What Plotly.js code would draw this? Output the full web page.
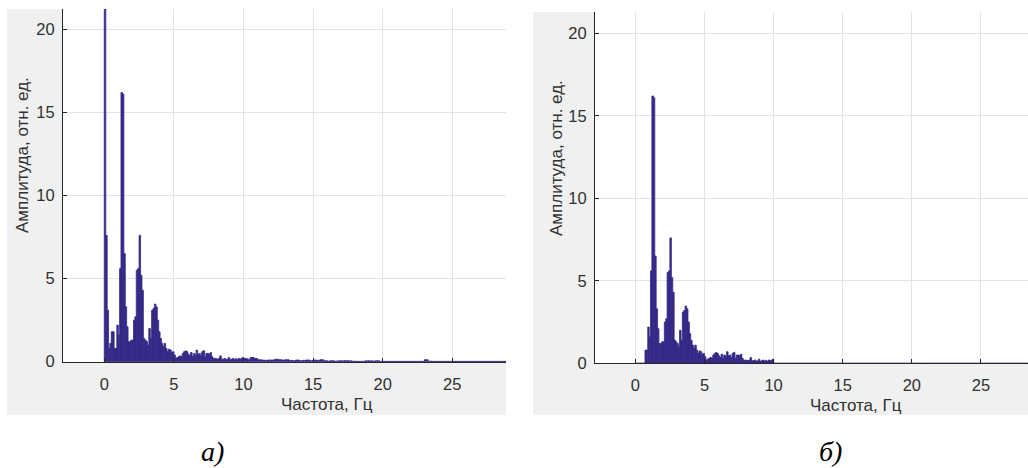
<!DOCTYPE html>
<html>
<head>
<meta charset="utf-8">
<script src="https://cdn.plot.ly/plotly-3.0.1.min.js"></script>
<style>
  html, body { margin: 0; padding: 0; background: #ffffff; }
  #chart { width: 1028px; height: 468px; }
</style>
</head>
<body>
<div id="chart"></div>
<script>
// ---------------- DATA ----------------
// Spectrum amplitude (rel. units), 0.1 Hz bins, 0 ... 10 Hz
const binWidth = 0.1;
const amplitude = [
  24, 7.6, 3.1, 0.8, 1.1, 1.8, 1.8, 0.8, 0.8, 2.2,
  1.6, 5.6, 16.2, 16.1, 6.5, 3.3, 2.1, 1.2, 1.2, 1.3,
  1.3, 2.5, 2.7, 5.5, 5.6, 7.6, 5.2, 4.3, 1.4, 1.3,
  1.2, 1.0, 2.0, 1.4, 3.1, 3.2, 3.47, 3.3, 2.5, 1.8,
  1.4, 1.1, 0.9, 1.1, 0.8, 0.6, 0.75, 0.7, 0.55, 0.6,
  0.4, 0.2, 0.25, 0.3, 0.35, 0.3, 0.5, 0.6, 0.65, 0.6,
  0.45, 0.35, 0.55, 0.3, 0.5, 0.4, 0.7, 0.45, 0.5, 0.35,
  0.6, 0.66, 0.3, 0.5, 0.5, 0.45, 0.55, 0.3, 0.18, 0.2,
  0.18, 0.15, 0.2, 0.35, 0.15, 0.15, 0.2, 0.12, 0.15, 0.25,
  0.12, 0.15, 0.2, 0.12, 0.18, 0.1, 0.2, 0.15, 0.18, 0.25
];
// High-frequency tail, 0.25 Hz bins, 10 ... 29 Hz
const tailStart = 10;
const tailWidth = 0.25;
const amplitudeTail = [
  0.2, 0.15, 0.25, 0.2, 0.12, 0.1, 0.08, 0.1, 0.1, 0.15,
  0.12, 0.1, 0.12, 0.08, 0.06, 0.1, 0.06, 0.08, 0.1, 0.06,
  0.1, 0.08, 0.12, 0.06, 0.04, 0.06, 0.03, 0.05, 0.05, 0.06,
  0.05, 0.03, 0.02, 0.02, 0.02, 0.05, 0.05, 0.04, 0.06, 0.02,
  0.02, 0.02, 0.02, 0.02, 0.02, 0.02, 0.02, 0.02, 0.02, 0.02,
  0.02, 0.02, 0.12, 0.03, 0.02, 0.02, 0.02, 0.02, 0.02, 0.02,
  0.02, 0.02, 0.02, 0.02, 0.02, 0.02, 0.02, 0.02, 0.02, 0.02,
  0.02, 0.02, 0.02, 0.02, 0.02, 0.02
];
// Filter pass band used for panel б)
const bandLow = 0.7, bandHigh = 10;

const xTicks = [0, 5, 10, 15, 20, 25];
const yTicks = [0, 5, 10, 15, 20];
const xTitle = 'Частота, Гц';
const yTitle = 'Амплитуда, отн. ед.';
const panelLabels = ['а)', 'б)'];

// ---------------- FIGURE ----------------
const W = 1028, H = 468;
const barColor = '#352A87';
const axColor = '#262626';

// panel б): components outside the pass band removed
const amplitudeFiltered = amplitude.map((v, i) => {
  const lo = i * binWidth;
  return (lo >= bandLow - 1e-9 && lo + binWidth <= bandHigh + 1e-9) ? v : 0;
});
const amplitudeTailFiltered = amplitudeTail.map(() => 0);

function barTrace(y, x0, dx, xa, ya) {
  return {
    type: 'bar', y: y, x0: x0 + dx / 2, dx: dx, width: dx * 1.1,
    xaxis: xa, yaxis: ya,
    marker: { color: barColor, line: { color: barColor, width: 0.8 } },
    hoverinfo: 'skip', showlegend: false
  };
}

const traces = [
  barTrace(amplitude, 0, binWidth, 'x', 'y'),
  barTrace(amplitudeTail, tailStart, tailWidth, 'x', 'y'),
  barTrace(amplitudeFiltered, 0, binWidth, 'x2', 'y2'),
  barTrace(amplitudeTailFiltered, tailStart, tailWidth, 'x2', 'y2')
];

const px = v => v / W, py = v => 1 - v / H;

// panel geometry (pixels)
const A = { l: 63, r: 506, t: 9, b: 361.7, gl: 7, gt: 9, gr: 506, gb: 415 };
const B = { l: 595, r: 1028, t: 12, b: 363.3, gl: 533, gt: 12, gr: 1028, gb: 415 };

const tickFont = { family: 'Liberation Sans, Arial, sans-serif', size: 16.5, color: '#303030' };

function xAxis(dom, range) {
  return {
    domain: [px(dom[0]), px(dom[1])], range: range,
    tickmode: 'array', tickvals: xTicks, ticktext: xTicks.map(String),
    showgrid: true, gridcolor: '#E3E3E3', gridwidth: 1,
    zeroline: false, showline: true, linecolor: axColor, linewidth: 1,
    ticks: 'inside', ticklen: 4, tickcolor: axColor,
    tickfont: tickFont,
    ticklabelstandoff: 7, fixedrange: true
  };
}
function yAxis(dom, range, anchor) {
  return {
    domain: [py(dom[1]), py(dom[0])], range: range, anchor: anchor,
    tickmode: 'array', tickvals: yTicks, ticktext: yTicks.map(String),
    showgrid: true, gridcolor: '#E3E3E3', gridwidth: 1,
    zeroline: false, showline: true, linecolor: axColor, linewidth: 1,
    ticks: 'inside', ticklen: 4, tickcolor: axColor,
    tickfont: tickFont,
    ticklabelstandoff: 4, fixedrange: true
  };
}

const titleFont = { family: 'Liberation Sans, Arial, sans-serif', size: 17, color: '#303030' };
const capFont = { family: 'Liberation Serif, Times New Roman, serif', size: 28, color: '#000000', style: 'italic' };

const layout = {
  width: W, height: H,
  margin: { l: 0, r: 0, t: 0, b: 0, pad: 0 },
  paper_bgcolor: '#ffffff', plot_bgcolor: '#ffffff',
  barmode: 'overlay', bargap: 0, showlegend: false,
  xaxis: Object.assign(xAxis([A.l, A.r], [-2.97, 28.86]), { anchor: 'y' }),
  yaxis: yAxis([A.t, A.b], [0, 21.22], 'x'),
  xaxis2: Object.assign(xAxis([B.l, B.r], [-2.92, 28.4]), { anchor: 'y2' }),
  yaxis2: yAxis([B.t, B.b], [0, 21.29], 'x2'),
  shapes: [
    { type: 'rect', xref: 'paper', yref: 'paper', layer: 'below',
      x0: px(A.gl), x1: px(A.gr), y0: py(A.gb), y1: py(A.gt),
      fillcolor: '#F0F0F0', line: { width: 0 } },
    { type: 'rect', xref: 'paper', yref: 'paper', layer: 'below',
      x0: px(B.gl), x1: px(B.gr), y0: py(B.gb), y1: py(B.gt),
      fillcolor: '#F0F0F0', line: { width: 0 } },
    { type: 'rect', xref: 'paper', yref: 'paper', layer: 'below',
      x0: px(A.l), x1: px(A.r), y0: py(A.b), y1: py(A.t),
      fillcolor: '#ffffff', line: { width: 0 } },
    { type: 'rect', xref: 'paper', yref: 'paper', layer: 'below',
      x0: px(B.l), x1: px(B.r), y0: py(B.b), y1: py(B.t),
      fillcolor: '#ffffff', line: { width: 0 } }
  ],
  annotations: [
    { text: xTitle, xref: 'paper', yref: 'paper', x: px(327), y: py(404),
      xanchor: 'center', yanchor: 'middle', showarrow: false, font: titleFont },
    { text: xTitle, xref: 'paper', yref: 'paper', x: px(856), y: py(405),
      xanchor: 'center', yanchor: 'middle', showarrow: false, font: titleFont },
    { text: yTitle, xref: 'paper', yref: 'paper', x: px(23), y: py(155), textangle: -90,
      xanchor: 'center', yanchor: 'middle', showarrow: false, font: titleFont },
    { text: yTitle, xref: 'paper', yref: 'paper', x: px(556), y: py(158), textangle: -90,
      xanchor: 'center', yanchor: 'middle', showarrow: false, font: titleFont },
    { text: panelLabels[0], xref: 'paper', yref: 'paper', x: px(212), y: py(451),
      xanchor: 'center', yanchor: 'middle', showarrow: false, font: capFont },
    { text: panelLabels[1], xref: 'paper', yref: 'paper', x: px(830), y: py(451),
      xanchor: 'center', yanchor: 'middle', showarrow: false, font: capFont }
  ]
};

Plotly.newPlot('chart', traces, layout, { staticPlot: true, displayModeBar: false });
</script>
</body>
</html>
